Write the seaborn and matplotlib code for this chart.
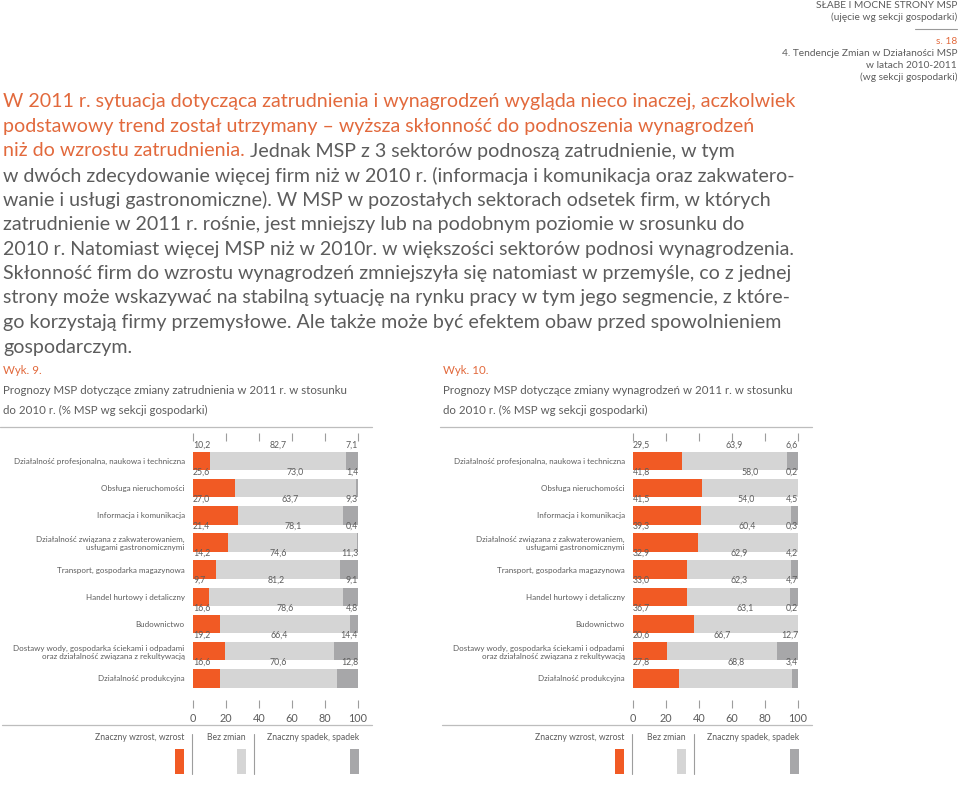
import numpy as np
import pandas as pd
import seaborn as sns
import matplotlib.pyplot as plt
from matplotlib.patches import Rectangle
from matplotlib.lines import Line2D

# sectors, top to bottom
sectors = [
    "Działalność profesjonalna, naukowa i techniczna",
    "Obsługa nieruchomości",
    "Informacja i komunikacja",
    "Działalność związana z zakwaterowaniem,\nusługami gastronomicznymi",
    "Transport, gospodarka magazynowa",
    "Handel hurtowy i detaliczny",
    "Budownictwo",
    "Dostawy wody, gospodarka ściekami i odpadami\noraz działalność związana z rekultywacją",
    "Działalność produkcyjna",
]

# Wyk. 9 - employment
emp_up = [10.2, 25.6, 27.0, 21.4, 14.2, 9.7, 16.6, 19.2, 16.6]
emp_same = [82.7, 73.0, 63.7, 78.1, 74.6, 81.2, 78.6, 66.4, 70.6]
emp_down = [7.1, 1.4, 9.3, 0.4, 11.3, 9.1, 4.8, 14.4, 12.8]

# Wyk. 10 - wages
wage_up = [29.5, 41.8, 41.5, 39.3, 32.9, 33.0, 36.7, 20.6, 27.8]
wage_same = [63.9, 58.0, 54.0, 60.4, 62.9, 62.3, 63.1, 66.7, 68.8]
wage_down = [6.6, 0.2, 4.5, 0.3, 4.2, 4.7, 0.2, 12.7, 3.4]

x_ticks = [0, 20, 40, 60, 80, 100]
legend_labels = ["Znaczny wzrost, wzrost", "Bez zmian", "Znaczny spadek, spadek"]

body_lines = [
    ("W 2011 r. sytuacja dotycząca zatrudnienia i wynagrodzeń wygląda nieco inaczej, aczkolwiek", ""),
    ("podstawowy trend został utrzymany – wyższa skłonność do podnoszenia wynagrodzeń", ""),
    ("niż do wzrostu zatrudnienia.", " Jednak MSP z 3 sektorów podnoszą zatrudnienie, w tym"),
    ("", "w dwóch zdecydowanie więcej firm niż w 2010 r. (informacja i komunikacja oraz zakwatero-"),
    ("", "wanie i usługi gastronomiczne). W MSP w pozostałych sektorach odsetek firm, w których"),
    ("", "zatrudnienie w 2011 r. rośnie, jest mniejszy lub na podobnym poziomie w srosunku do"),
    ("", "2010 r. Natomiast więcej MSP niż w 2010r. w większości sektorów podnosi wynagrodzenia."),
    ("", "Skłonność firm do wzrostu wynagrodzeń zmniejszyła się natomiast w przemyśle, co z jednej"),
    ("", "strony może wskazywać na stabilną sytuację na rynku pracy w tym jego segmencie, z które-"),
    ("", "go korzystają firmy przemysłowe. Ale także może być efektem obaw przed spowolnieniem"),
    ("", "gospodarczym."),
]

ORANGE = "#f15a24"
LIGHT = "#d5d5d5"
DARK = "#a7a7a9"
TEXT = "#5c5c5c"
TEXT_OR = "#e2693c"
TICK = "#9d9d9d"

W, H = 960, 807


def fx(px):
    return px / W


def fy(py):
    return 1 - py / H


def fmt(v):
    return f"{v:.1f}".replace(".", ",")


sns.set_style("white")
plt.rcParams["font.family"] = ["Lato", "DejaVu Sans"]

fig = plt.figure(figsize=(9.6, 8.07), dpi=100)
renderer = fig.canvas.get_renderer()

# header top right
hdr = [
    ("SŁABE I MOCNE STRONY MSP", 5, TEXT),
    ("(ujęcie wg sekcji gospodarki)", 17, TEXT),
    ("s. 18", 41, TEXT_OR),
    ("4. Tendencje Zmian w Działaności MSP", 53, TEXT),
    ("w latach 2010-2011", 65, TEXT),
    ("(wg sekcji gospodarki)", 77, TEXT),
]
for s, y, c in hdr:
    fig.text(fx(957), fy(y), s, ha="right", va="center", fontsize=7.3, color=c)
fig.add_artist(Line2D([fx(915), fx(957)], [fy(29), fy(29)], color="#9a9a9a", lw=0.8))

# body paragraph
BODY_FS = 14.1
for i, (orange_part, grey_part) in enumerate(body_lines):
    y = fy(102 + 24.5 * i)
    x0 = fx(3)
    if orange_part:
        t = fig.text(x0, y, orange_part, ha="left", va="center", fontsize=BODY_FS,
                     color=TEXT_OR)
        bb = t.get_window_extent(renderer)
        x0 = bb.x1 / W
    if grey_part:
        fig.text(x0, y, grey_part, ha="left", va="center", fontsize=BODY_FS, color=TEXT)


def draw_chart(ax, up, same, down):
    df = pd.DataFrame({"sector": sectors, "up": up, "same": same, "down": down})
    df["c2"] = df["up"] + df["same"]
    df["c3"] = df["c2"] + df["down"]
    for col, c in [("c3", DARK), ("c2", LIGHT), ("up", ORANGE)]:
        sns.barplot(data=df, x=col, y="sector", color=c, saturation=1, width=0.68,
                    linewidth=0, errorbar=None, orient="h", ax=ax)
    for i in range(len(sectors)):
        yl = i - 0.6
        kw = dict(va="center", fontsize=6.3, color=TEXT)
        ax.text(0, yl, fmt(up[i]), ha="left", **kw)
        ax.text(up[i] + same[i] / 2, yl, fmt(same[i]), ha="center", **kw)
        ax.text(100, yl, fmt(down[i]), ha="right", **kw)
    ax.set_xlim(0, 100)
    ax.set_ylim(8.80, -0.74)
    ax.set_xticks(x_ticks)
    ax.set_xticklabels([str(v) for v in x_ticks])
    ax.tick_params(axis="x", top=True, bottom=True, length=6, width=0.8, color=TICK,
                   labelsize=7.8, labelcolor=TEXT, pad=3)
    ax.tick_params(axis="y", length=0, pad=6, labelsize=5.8, labelcolor=TEXT)
    ax.set_xlabel("")
    ax.set_ylabel("")
    sns.despine(ax=ax, left=True, bottom=True)


panels = [
    (0, "Wyk. 9.", "Prognozy MSP dotyczące zmiany zatrudnienia w 2011 r. w stosunku",
     emp_up, emp_same, emp_down),
    (440, "Wyk. 10.", "Prognozy MSP dotyczące zmiany wynagrodzeń w 2011 r. w stosunku",
     wage_up, wage_same, wage_down),
]

for off, wyk, title, up, same, down in panels:
    fig.text(fx(3 + off), fy(370), wyk, ha="left", va="center", fontsize=8.3, color=TEXT_OR)
    fig.text(fx(3 + off), fy(390), title, ha="left", va="center", fontsize=8.3, color=TEXT)
    fig.text(fx(3 + off), fy(410), "do 2010 r. (% MSP wg sekcji gospodarki)", ha="left",
             va="center", fontsize=8.3, color=TEXT)
    fig.add_artist(Line2D([fx(off), fx(372 + off)], [fy(427), fy(427)], color="#bdbdbd", lw=0.9))

    ax = fig.add_axes([fx(193 + off), fy(700), fx(165), (700 - 441) / H])
    ax.patch.set_alpha(0)
    draw_chart(ax, up, same, down)

    fig.add_artist(Line2D([fx(2 + off), fx(372 + off)], [fy(725), fy(725)], color="#bdbdbd", lw=0.9))
    for lab, right, c in zip(legend_labels, [184, 246, 359], [ORANGE, LIGHT, DARK]):
        fig.text(fx(right + off), fy(738), lab, ha="right", va="center", fontsize=6.2, color=TEXT)
        fig.add_artist(Rectangle((fx(right - 9 + off), fy(774)), fx(9), 25 / H,
                                 facecolor=c, edgecolor="none"))
    for sx in [192, 254]:
        fig.add_artist(Line2D([fx(sx + off), fx(sx + off)], [fy(734), fy(774)], color="#9d9d9d", lw=0.8))

fig.savefig("out.png", dpi=100)
